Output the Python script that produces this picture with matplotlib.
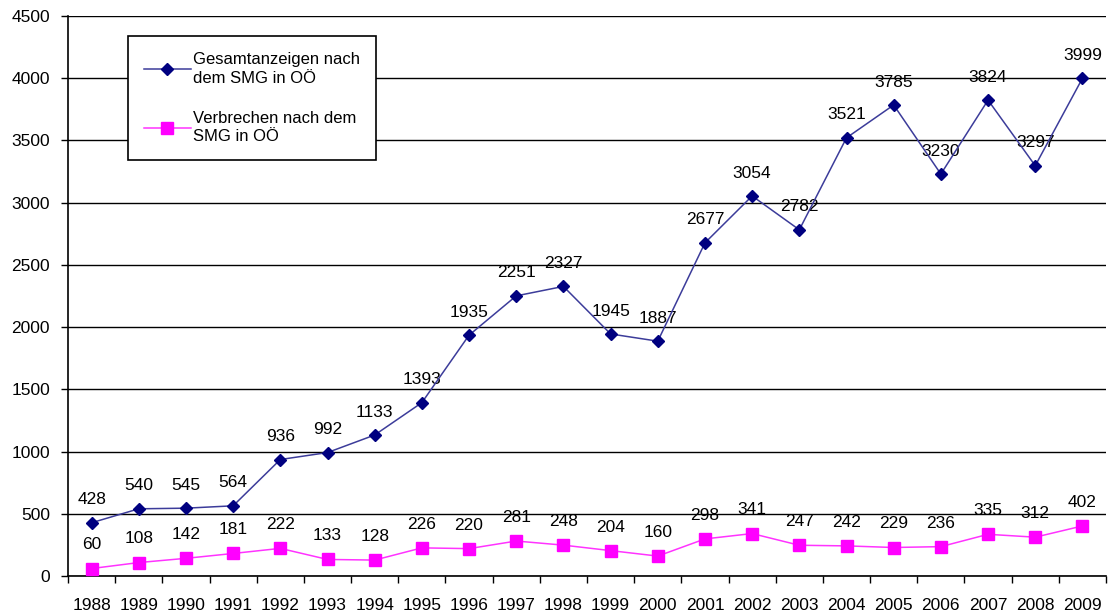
import matplotlib
matplotlib.use("Agg")
import matplotlib.pyplot as plt
import numpy as np

years = ["1988", "1989", "1990", "1991", "1992", "1993", "1994", "1995", "1996", "1997", "1998",
         "1999", "2000", "2001", "2002", "2003", "2004", "2005", "2006", "2007", "2008", "2009"]
gesamt = [428, 540, 545, 564, 936, 992, 1133, 1393, 1935, 2251, 2327,
          1945, 1887, 2677, 3054, 2782, 3521, 3785, 3230, 3824, 3297, 3999]
verbrechen = [60, 108, 142, 181, 222, 133, 128, 226, 220, 281, 248,
              204, 160, 298, 341, 247, 242, 229, 236, 335, 312, 402]
label_gesamt = "Gesamtanzeigen nach\ndem SMG in OÖ"
label_verbrechen = "Verbrechen nach dem\nSMG in OÖ"

plt.rcParams['font.family'] = ['Liberation Sans', 'DejaVu Sans']

fig = plt.figure(figsize=(11.12, 6.16), dpi=100)
ax = fig.add_axes([68/1112, 1-576/616, 1038/1112, 560/616])

x = np.arange(len(years))
ax.plot(x, gesamt, color='#3c3c9a', lw=1.1, marker='D', markersize=6.5,
        markerfacecolor='#000080', markeredgecolor='#000080', label=label_gesamt, zorder=3)
ax.plot(x, verbrechen, color='#FF33FF', lw=1.1, marker='s', markersize=8,
        markerfacecolor='#FF00FF', markeredgecolor='#FF00FF', label=label_verbrechen, zorder=3)

for xi, v in zip(x, gesamt):
    ax.annotate(str(v), (xi, v), xytext=(0, 16.5), textcoords='offset points',
                ha='center', va='center', fontsize=12.5, color='black', zorder=1)
for xi, v in zip(x, verbrechen):
    ax.annotate(str(v), (xi, v), xytext=(0, 17), textcoords='offset points',
                ha='center', va='center', fontsize=12.5, color='black', zorder=1)

ax.set_xlim(-0.5, len(years) - 0.5)
ax.set_ylim(0, 4500)
ax.set_yticks(np.arange(0, 4501, 500))
ax.yaxis.grid(True, color='black', lw=1.0)
ax.set_axisbelow(True)
ax.set_xticks(x)
ax.set_xticklabels(years)
ax.set_xticks(np.arange(-0.5, len(years), 1.0), minor=True)
ax.tick_params(axis='x', which='major', length=0, pad=16, labelsize=12.5)
ax.tick_params(axis='x', which='minor', length=5, width=1, direction='out', color='black')
ax.tick_params(axis='y', which='major', length=5, width=1, direction='out', labelsize=12.5, pad=8)

for s in ['top', 'right']:
    ax.spines[s].set_visible(False)
for s in ['left', 'bottom']:
    ax.spines[s].set_color('black')
    ax.spines[s].set_linewidth(1.2)

leg = ax.legend(loc='upper left', bbox_to_anchor=(0.058, 0.964), fontsize=12,
                frameon=True, fancybox=False, edgecolor='black', framealpha=1,
                labelspacing=1.5, handlelength=2.8, handletextpad=0.15,
                borderpad=0.95, borderaxespad=0)
for t in leg.get_texts():
    t.set_linespacing(1.3)
leg.get_frame().set_linewidth(1.2)
leg.set_zorder(5)

fig.savefig("out.png", dpi=100, facecolor='white')
